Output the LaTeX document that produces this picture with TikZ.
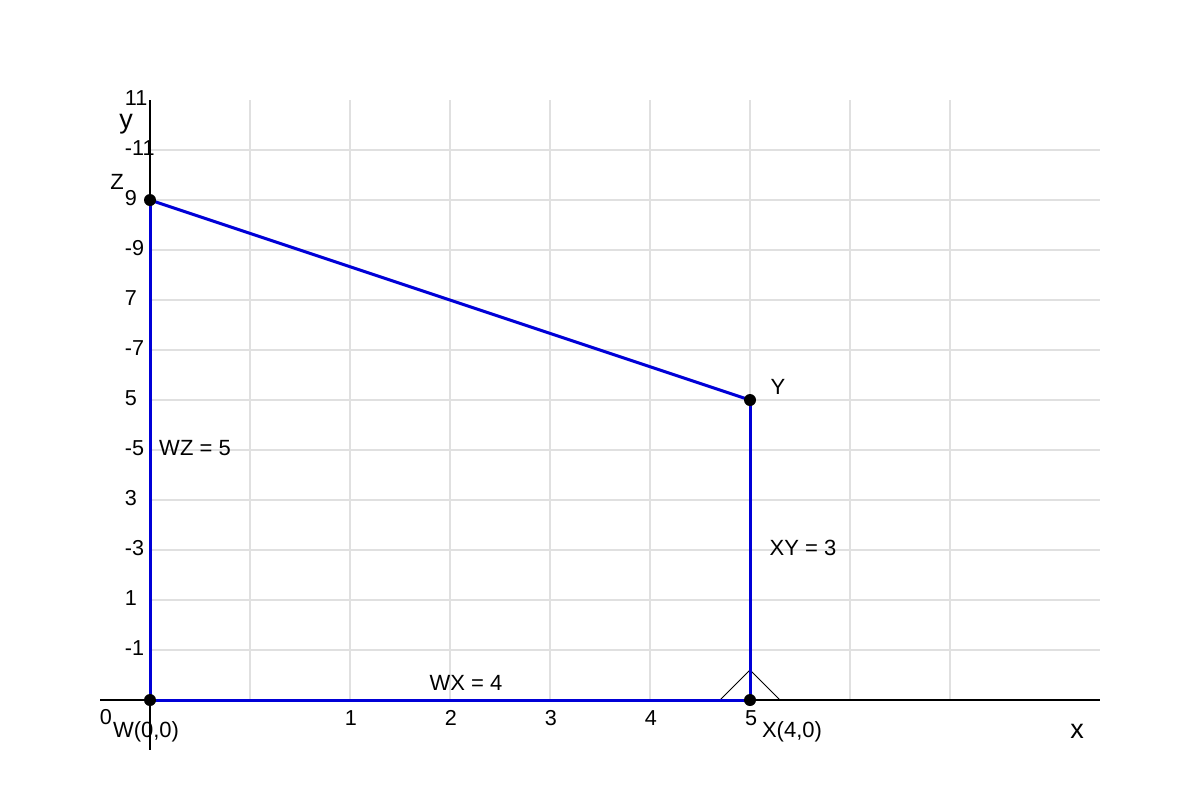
\documentclass[tikz,border=0pt]{standalone}
\usepackage{fontspec}
\setmainfont{Liberation Sans}
\definecolor{gridgray}{RGB}{224,224,224}
\definecolor{segblue}{RGB}{0,0,215}
\tikzset{
  gridline/.style={draw=gridgray, line width=0.75pt},
  axisline/.style={draw=black, line width=1pt},
  seg/.style={draw=segblue, line width=1.5pt},
  dot/.style={circle, fill=black, inner sep=0pt, minimum size=6pt},
  ticklab/.style={font=\fontsize{10.8}{12}\selectfont, inner sep=0pt},
  lab/.style={font=\fontsize{11}{13}\selectfont, inner sep=0pt},
  axlab/.style={font=\fontsize{13.5}{15}\selectfont, inner sep=0pt},
  anglemark/.style={draw=black, line width=0.5pt}
}
\begin{document}
\begin{tikzpicture}[x=0.5pt, y=-0.5pt]
\useasboundingbox (0,0) rectangle (1200,800);
% grid
\foreach \yy in {150,200,...,650} \draw[gridline] (150,\yy) -- (1100,\yy);
\foreach \xx in {250,350,...,950} \draw[gridline] (\xx,100) -- (\xx,700);
% axes
\draw[axisline] (100,700) -- (1100,700);
\draw[axisline] (150,100) -- (150,750);
% y tick labels
\foreach \yy/\t in {100/11,150/-11,200/9,250/-9,300/7,350/-7,400/5,450/-5,500/3,550/-3,600/1,650/-1}
  \node[ticklab, anchor=west] at (124.5,\yy-2) {\t};
% x tick labels
\node[ticklab] (t0) at (106,717) {0};
\foreach \xx/\t in {351/1,451/2,551/3,651/4,751/5}
  \node[ticklab] at (\xx,718) {\t};
\node[axlab] (ylab) at (126,124.5) {y};
\node[axlab] (xlab) at (1077,731) {x};
% points
\coordinate (W) at (150,700);
\coordinate (X) at (750,700);
\coordinate (Y) at (750,400);
\coordinate (Z) at (150,200);
\coordinate (M) at (750,670);
\coordinate (ML) at (720,700);
\coordinate (MR) at (780,700);
% right-angle marker
\draw[anglemark] (ML) -- (M) -- (MR);
% segments
\draw[seg] (W) -- (X);
\draw[seg] (X) -- (Y);
\draw[seg] (Y) -- (Z);
\draw[seg] (Z) -- (W);
\node[dot] (dW) at (W) {};
\node[dot] (dX) at (X) {};
\node[dot] (dY) at (Y) {};
\node[dot] (dZ) at (Z) {};
% labels
\node[lab] (lZ) at (117,182) {Z};
\node[lab] (lY) at (778,387) {Y};
\node[lab] (lW) at (146,732) {W(0,0)};
\node[lab] (lX) at (792,732) {X(4,0)};
\node[lab] (lWZ) at (195,448) {WZ = 5};
\node[lab] (lXY) at (803,548) {XY = 3};
\node[lab] (lWX) at (466,683) {WX = 4};
\end{tikzpicture}
\end{document}
